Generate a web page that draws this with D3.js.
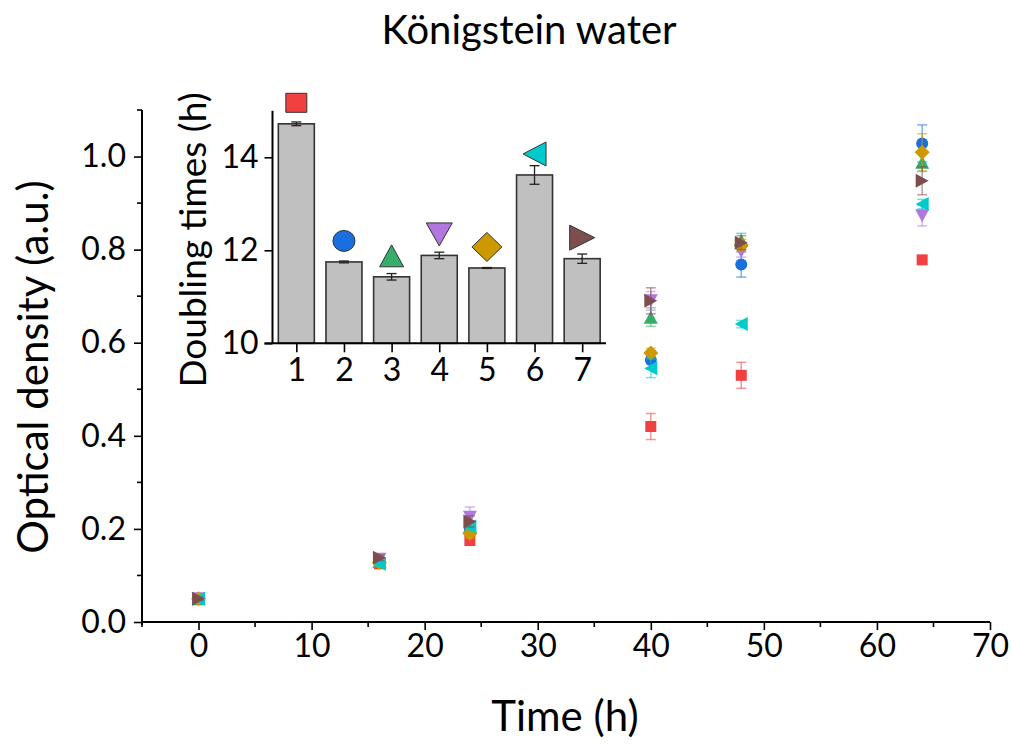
<!DOCTYPE html>
<html>
<head>
<meta charset="utf-8">
<script src="https://cdn.jsdelivr.net/npm/d3@7"></script>
<style>
  html, body { margin: 0; padding: 0; background: #fff; }
  svg text { font-family: Lato, "Open Sans", sans-serif; fill: #000; }
</style>
</head>
<body>
<svg id="chart" width="1012" height="744"></svg>
<script>
// ---------- data ----------
const times = [0, 16, 24, 40, 48, 64];
const seriesNames = ["1", "2", "3", "4", "5", "6", "7"];
const seriesColors = ["#F14040", "#1A6FDF", "#37AD6B", "#B177DE", "#CC9900", "#00CBCC", "#7D4E4E"];
const seriesShapes = ["square", "circle", "up", "down", "diamond", "left", "right"];

const od1 = [0.05, 0.125, 0.175, 0.420, 0.530, 0.778];
const od2 = [0.05, 0.130, 0.200, 0.563, 0.768, 1.028];
const od3 = [0.05, 0.130, 0.205, 0.655, 0.820, 0.988];
const od4 = [0.05, 0.135, 0.225, 0.690, 0.796, 0.873];
const od5 = [0.05, 0.128, 0.190, 0.578, 0.810, 1.009];
const od6 = [0.05, 0.125, 0.205, 0.545, 0.640, 0.898];
const od7 = [0.05, 0.138, 0.216, 0.690, 0.815, 0.948];

const err1 = [0.004, 0.005, 0.010, 0.028, 0.028, 0.005];
const err2 = [0.004, 0.005, 0.010, 0.020, 0.027, 0.040];
const err3 = [0.004, 0.005, 0.010, 0.020, 0.015, 0.020];
const err4 = [0.004, 0.006, 0.022, 0.020, 0.012, 0.022];
const err5 = [0.004, 0.005, 0.010, 0.010, 0.012, 0.040];
const err6 = [0.004, 0.005, 0.010, 0.020, 0.008, 0.010];
const err7 = [0.004, 0.006, 0.012, 0.028, 0.015, 0.030];

const odValues = [od1, od2, od3, od4, od5, od6, od7];
const odErrors = [err1, err2, err3, err4, err5, err6, err7];

const xTicks = [0, 10, 20, 30, 40, 50, 60, 70];
const yTicks = [0.0, 0.2, 0.4, 0.6, 0.8, 1.0];

// inset: doubling times
const insetCategories = [1, 2, 3, 4, 5, 6, 7];
const doublingTimes = [14.72, 11.75, 11.43, 11.89, 11.62, 13.62, 11.82];
const doublingErrors = [0.04, 0.02, 0.07, 0.07, 0.01, 0.20, 0.10];
const insetYTicks = [10, 12, 14];

// ---------- helpers ----------
function shapePath(type, w, h) {
  const a = w / 2, b = h / 2;
  switch (type) {
    case "square": return `M${-a},${-b}H${a}V${b}H${-a}Z`;
    case "circle": return `M${-a},0A${a},${b} 0 1,0 ${a},0A${a},${b} 0 1,0 ${-a},0Z`;
    case "up": return `M0,${-b}L${a},${b}L${-a},${b}Z`;
    case "down": return `M0,${b}L${a},${-b}L${-a},${-b}Z`;
    case "diamond": return `M0,${-b}L${a},0L0,${b}L${-a},0Z`;
    case "left": return `M${-a},0L${a},${-b}L${a},${b}Z`;
    case "right": return `M${a},0L${-a},${-b}L${-a},${b}Z`;
  }
}
const mainSize = { square: [11, 11], circle: [12, 12], up: [14, 13], down: [14, 13], diamond: [15, 15], left: [13, 14], right: [13, 14] };
const insetSize = { square: [21, 19], circle: [22, 21], up: [24, 22], down: [26, 23], diamond: [30, 29], left: [23, 24], right: [25, 25] };

const svg = d3.select("#chart");

// ---------- main chart ----------
const x = d3.scaleLinear().domain([-5, 70]).range([142, 990]);
const y = d3.scaleLinear().domain([0, 1.1]).range([622, 110]);

// x axis
const xAxis = d3.axisBottom(x).tickValues(xTicks).tickSize(8).tickPadding(4).tickFormat(d3.format("d"));
const gx = svg.append("g").attr("transform", `translate(0,${y(0)})`).call(xAxis);
gx.select(".domain").attr("d", `M${x(-5)},0H${x(70)}`);
gx.selectAll(".tick line").attr("stroke-width", 1.6);
gx.selectAll("text").attr("font-size", 32).attr("font-family", "Lato");
// minor x ticks
svg.append("g").selectAll("line").data(d3.range(-5, 71, 10)).join("line")
  .attr("x1", d => x(d)).attr("x2", d => x(d)).attr("y1", y(0)).attr("y2", y(0) + 5)
  .attr("stroke", "#000").attr("stroke-width", 1.6);

// y axis
const yAxis = d3.axisLeft(y).tickValues(yTicks).tickSize(8).tickPadding(8).tickFormat(d3.format(".1f"));
const gy = svg.append("g").attr("transform", `translate(${x(-5)},0)`).call(yAxis);
gy.select(".domain").attr("d", `M0,${y(1.1)}V${y(0) + 3}`);
gy.selectAll(".tick line").attr("stroke-width", 1.6);
gy.selectAll("text").attr("font-size", 32).attr("font-family", "Lato");
svg.append("g").selectAll("line").data([0.1, 0.3, 0.5, 0.7, 0.9, 1.1]).join("line")
  .attr("x1", x(-5)).attr("x2", x(-5) - 5).attr("y1", d => y(d)).attr("y2", d => y(d))
  .attr("stroke", "#000").attr("stroke-width", 1.6);
svg.selectAll(".domain").attr("stroke", "#000").attr("stroke-width", 2);

// series
odValues.forEach((vals, si) => {
  const color = seriesColors[si];
  const g = svg.append("g");
  const pts = times.map((t, i) => ({ t, v: vals[i], e: odErrors[si][i] }));
  const eb = g.append("g").attr("stroke", color).attr("stroke-opacity", 0.55).attr("stroke-width", 1.5);
  eb.selectAll(".v").data(pts).join("line")
    .attr("x1", d => x(d.t)).attr("x2", d => x(d.t))
    .attr("y1", d => y(d.v - d.e)).attr("y2", d => y(d.v + d.e));
  eb.selectAll(".ct").data(pts).join("line")
    .attr("x1", d => x(d.t) - 5).attr("x2", d => x(d.t) + 5)
    .attr("y1", d => y(d.v + d.e)).attr("y2", d => y(d.v + d.e));
  eb.selectAll(".cb").data(pts).join("line")
    .attr("x1", d => x(d.t) - 5).attr("x2", d => x(d.t) + 5)
    .attr("y1", d => y(d.v - d.e)).attr("y2", d => y(d.v - d.e));
  const sh = seriesShapes[si];
  g.selectAll("path.m").data(pts).join("path").attr("class", "m")
    .attr("d", shapePath(sh, mainSize[sh][0], mainSize[sh][1]))
    .attr("transform", d => `translate(${x(d.t)},${y(d.v)})`)
    .attr("fill", color);
});

// titles
svg.append("text").attr("x", 529).attr("y", 44).attr("text-anchor", "middle")
  .attr("font-size", 40).text("Königstein water");
svg.append("text").attr("x", 565).attr("y", 731).attr("text-anchor", "middle")
  .attr("font-size", 42).text("Time (h)");
svg.append("text").attr("transform", "translate(48,367) rotate(-90)").attr("text-anchor", "middle")
  .attr("font-size", 42).text("Optical density (a.u.)");

// ---------- inset ----------
const ix = d3.scaleLinear().domain([0.5, 7.5]).range([272.5, 606]);
const iy = d3.scaleLinear().domain([10, 15]).range([343.3, 110.8]);
const barW = 36;

const ib = svg.append("g");
ib.selectAll("rect").data(insetCategories).join("rect")
  .attr("x", d => ix(d) - barW / 2).attr("width", barW)
  .attr("y", (d, i) => iy(doublingTimes[i])).attr("height", (d, i) => iy(10) - iy(doublingTimes[i]))
  .attr("fill", "#C0C0C0").attr("stroke", "#333").attr("stroke-width", 1.6);
// error bars
const ie = svg.append("g").attr("stroke", "#222").attr("stroke-width", 1.3);
insetCategories.forEach((c, i) => {
  const v = doublingTimes[i], e = doublingErrors[i];
  ie.append("line").attr("x1", ix(c)).attr("x2", ix(c)).attr("y1", iy(v - e)).attr("y2", iy(v + e));
  ie.append("line").attr("x1", ix(c) - 5).attr("x2", ix(c) + 5).attr("y1", iy(v + e)).attr("y2", iy(v + e));
  ie.append("line").attr("x1", ix(c) - 5).attr("x2", ix(c) + 5).attr("y1", iy(v - e)).attr("y2", iy(v - e));
});
// markers above bars
svg.append("g").selectAll("path").data(insetCategories).join("path")
  .attr("d", (d, i) => shapePath(seriesShapes[i], insetSize[seriesShapes[i]][0], insetSize[seriesShapes[i]][1]))
  .attr("transform", (d, i) => `translate(${ix(d)},${iy(doublingTimes[i]) - 21})`)
  .attr("fill", (d, i) => seriesColors[i]).attr("stroke", "#333").attr("stroke-width", 1);

// inset axes
const ixAxis = d3.axisBottom(ix).tickValues(insetCategories).tickSize(9).tickPadding(6).tickFormat(d3.format("d"));
const igx = svg.append("g").attr("transform", `translate(0,${iy(10)})`).call(ixAxis);
igx.select(".domain").attr("d", `M${ix(0.5) - 8},0H${ix(7.5)}`).attr("stroke-width", 2);
igx.selectAll(".tick line").attr("stroke-width", 1.6);
igx.selectAll("text").attr("font-size", 32).attr("font-family", "Lato");

const iyAxis = d3.axisLeft(iy).tickValues(insetYTicks).tickSize(8).tickPadding(6).tickFormat(d3.format("d"));
const igy = svg.append("g").attr("transform", `translate(${ix(0.5)},0)`).call(iyAxis);
igy.select(".domain").attr("d", `M0,${iy(15)}V${iy(10)}`).attr("stroke-width", 2);
igy.selectAll(".tick line").attr("stroke-width", 1.6);
igy.selectAll("text").attr("font-size", 32).attr("font-family", "Lato");

svg.append("text").attr("transform", "translate(206,240) rotate(-90)").attr("text-anchor", "middle")
  .attr("font-size", 37).text("Doubling times (h)");
</script>
</body>
</html>
